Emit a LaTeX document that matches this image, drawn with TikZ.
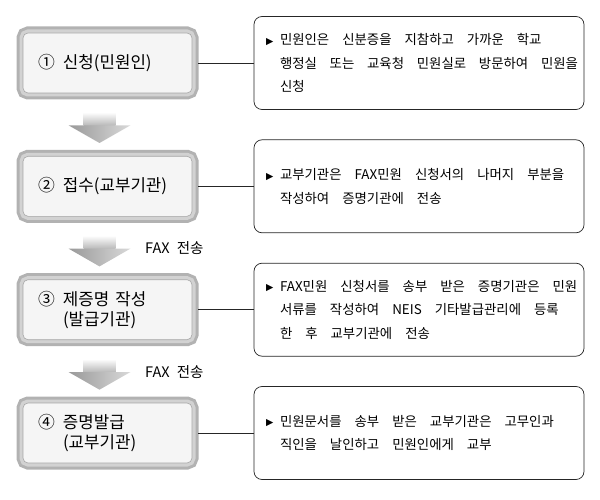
\documentclass[tikz,border=0pt]{standalone}
\usepackage{fontspec}
\setmainfont{Noto Sans CJK KR}
\newfontfamily\trifont{DejaVu Sans}
\usetikzlibrary{calc}

% number in front of a step, its lines stand beside it
\newcommand{\stepnum}[2]{\spaceskip=6pt\relax\makebox[25pt][l]{#1}\parbox[t]{114pt}{#2}}
% small triangle in front of a note, its lines stand beside it
\newcommand{\notemark}[1]{\spaceskip=13pt plus 1pt minus 2pt\relax\makebox[20pt][l]{\hspace{6pt}\raisebox{0.5pt}{\trifont\fontsize{9.5pt}{9.5pt}\selectfont ▶}}\parbox[t]{298pt}{#1}}

\tikzset{
    procbox/.style={rounded corners=5pt, draw=gray!70, line width=0.6pt, fill=gray!8,
        text width=139pt, inner xsep=15pt, minimum height=60pt, align=left,
        font=\fontsize{16.8pt}{20pt}\selectfont,
        preaction={draw=gray!60, line width=13pt},
        preaction={draw=gray!35, line width=7pt}},
    descbox/.style={rounded corners=8pt, draw=gray!30!black, line width=0.7pt, fill=white,
        text width=318pt, inner xsep=6pt, minimum height=93pt, align=left,
        font=\fontsize{13.4pt}{23.5pt}\selectfont},
    linkline/.style={draw=gray!30!black, line width=0.7pt, shorten <=6pt},
    faxlabel/.style={anchor=west, inner sep=0pt, font=\fontsize{14.5pt}{14.5pt}\selectfont}
}

\begin{document}
\begin{tikzpicture}[x=1pt,y=-1pt]
    \useasboundingbox (0,0) rectangle (600,500);

    % draw the steps on the left and their notes on the right
    \foreach \i/\y/\stepmark/\steptext/\notetext in {
        1/63/①/{신청(민원인)}/{민원인은 신분증을 지참하고 가까운 학교\\행정실 또는 교육청 민원실로 방문하여 민원을\\신청},
        2/186.3/②/{접수(교부기관)}/{교부기관은 FAX민원 신청서의 나머지 부분을\\작성하여 증명기관에 전송},
        3/309.7/③/{제증명 작성\\(발급기관)}/{FAX민원 신청서를 송부 받은 증명기관은 민원\\서류를 작성하여 NEIS 기타발급관리에 등록\\한 후 교부기관에 전송},
        4/433/④/{증명발급\\(교부기관)}/{민원문서를 송부 받은 교부기관은 고무인과\\직인을 날인하고 민원인에게 교부}} {
        \node[procbox] (step\i) at (107.5,\y) {\stepnum{\stepmark}{\steptext}};
        \node[descbox] (desc\i) at (419,\y) {\notemark{\notetext}};
        % line from the step to its note
        \draw[linkline] (step\i) -- (desc\i);
    }

    % draw the big arrows between the steps
    \foreach \i/\j in {1/2,2/3,3/4} {
        \shade[top color=white, bottom color=gray!55]
            ($(step\i.south)+(-24,19)$) rectangle ($(step\i.south)+(8,32)$);
        \shade[left color=gray!80, right color=gray!30]
            ($(step\i.south)+(-39,32)$) -- ($(step\i.south)+(23,32)$)
            -- ($(step\j.north)+(-8,-13)$) -- cycle;
    }

    % the fax labels next to the arrows
    \node[faxlabel] (fax2) at ($(step2.south)!0.5!(step3.north)+(37.5,0)$) {\spaceskip=7pt\relax FAX 전송};
    \node[faxlabel] (fax3) at ($(step3.south)!0.5!(step4.north)+(37.5,1)$) {\spaceskip=7pt\relax FAX 전송};
\end{tikzpicture}
\end{document}
